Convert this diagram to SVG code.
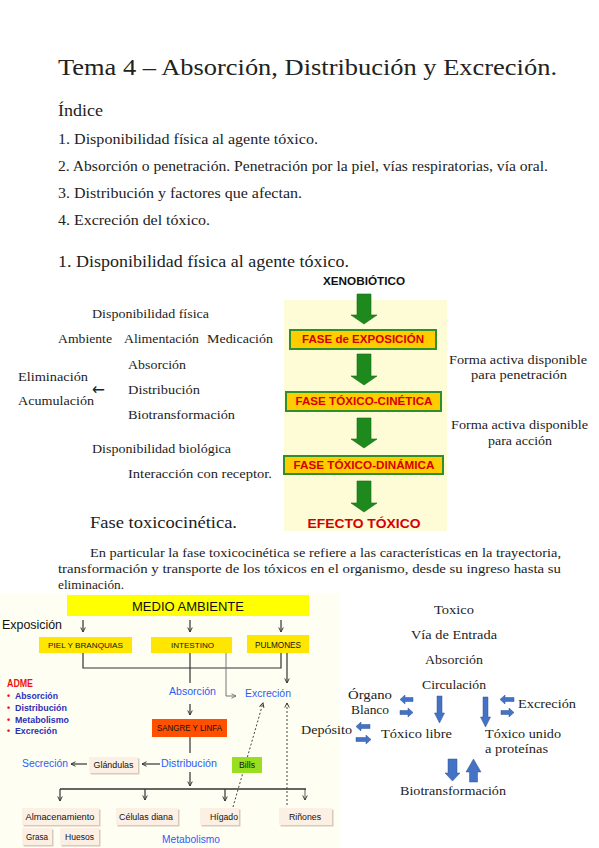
<svg xmlns="http://www.w3.org/2000/svg" width="599" height="848" viewBox="0 0 599 848">
<style>
.s{font-family:"Liberation Serif","DejaVu Serif",serif;fill:#222}
.b{font-family:"Liberation Sans",Arial,sans-serif;font-weight:bold}
.f{font-family:"Liberation Sans",Arial,sans-serif;fill:#111}
.bl{font-family:"Liberation Sans",Arial,sans-serif;fill:#2f5cf5}
.ad{font-family:"Liberation Sans",Arial,sans-serif;font-weight:bold;fill:#2b2fb8;font-size:9px}
.fase{fill:#ffcc00;stroke:#2e8f2e;stroke-width:2}
.ft{font-family:"Liberation Sans",Arial,sans-serif;font-weight:bold;fill:#d40000;font-size:10.5px}
.ga{fill:#1e8a1e;stroke:#156815;stroke-width:0.6}
.ba{fill:#4472c4;stroke:#2f5597;stroke-width:0.5}
.yb{fill:#ffe600}
.bg{fill:#fcefe4}
.sh{fill:#d8c9bb}
.ln{stroke:#333;stroke-width:1.2;fill:none}
.dt{stroke:#444;stroke-width:1;stroke-dasharray:2 2;fill:none}
</style>
<defs>
<marker id="ah" viewBox="0 0 8 8" refX="7" refY="4" markerWidth="6" markerHeight="6" orient="auto" markerUnits="userSpaceOnUse">
<path d="M1,1 L7,4 L1,7" fill="none" stroke="#333" stroke-width="1.3"/>
</marker>
<marker id="ahg" viewBox="0 0 8 8" refX="7" refY="4" markerWidth="6" markerHeight="6" orient="auto" markerUnits="userSpaceOnUse">
<path d="M1,1 L7,4 L1,7" fill="none" stroke="#777" stroke-width="1.3"/>
</marker>
</defs>
<rect width="599" height="848" fill="#fff"/>

<g id="header">
<text class="s" x="58" y="75" font-size="24" textLength="499" lengthAdjust="spacingAndGlyphs">Tema 4 – Absorción, Distribución y Excreción.</text>
<text class="s" x="58" y="116" font-size="17" textLength="45" lengthAdjust="spacingAndGlyphs">Índice</text>
<text class="s" x="58" y="144" font-size="14" textLength="260" lengthAdjust="spacingAndGlyphs">1. Disponibilidad física al agente tóxico.</text>
<text class="s" x="58" y="171" font-size="14" textLength="490" lengthAdjust="spacingAndGlyphs">2. Absorción o penetración. Penetración por la piel, vías respiratorias, vía oral.</text>
<text class="s" x="58" y="198" font-size="14" textLength="244" lengthAdjust="spacingAndGlyphs">3. Distribución y factores que afectan.</text>
<text class="s" x="58" y="225" font-size="14" textLength="152" lengthAdjust="spacingAndGlyphs">4. Excreción del tóxico.</text>
<text class="s" x="58" y="267" font-size="16" textLength="291" lengthAdjust="spacingAndGlyphs">1. Disponibilidad física al agente tóxico.</text>
</g>

<g id="availability-list" font-size="13">
<text class="s" x="92" y="318" textLength="117" lengthAdjust="spacingAndGlyphs">Disponibilidad física</text>
<text class="s" x="58" y="343" textLength="54" lengthAdjust="spacingAndGlyphs">Ambiente</text>
<text class="s" x="124" y="343" textLength="75" lengthAdjust="spacingAndGlyphs">Alimentación</text>
<text class="s" x="207" y="343" textLength="66" lengthAdjust="spacingAndGlyphs">Medicación</text>
<text class="s" x="128" y="369" textLength="58" lengthAdjust="spacingAndGlyphs">Absorción</text>
<text class="s" x="18" y="381" textLength="70" lengthAdjust="spacingAndGlyphs">Eliminación</text>
<text x="92" y="395" font-family="DejaVu Sans, sans-serif" font-size="17" fill="#222" textLength="13" lengthAdjust="spacingAndGlyphs">←</text>
<text class="s" x="128" y="394" textLength="72" lengthAdjust="spacingAndGlyphs">Distribución</text>
<text class="s" x="18" y="405" textLength="76" lengthAdjust="spacingAndGlyphs">Acumulación</text>
<text class="s" x="128" y="419" textLength="107" lengthAdjust="spacingAndGlyphs">Biotransformación</text>
<text class="s" x="92" y="453" textLength="139" lengthAdjust="spacingAndGlyphs">Disponibilidad biológica</text>
<text class="s" x="128" y="478" textLength="144" lengthAdjust="spacingAndGlyphs">Interacción con receptor.</text>
</g>

<g id="phases">
<rect x="284" y="300" width="163" height="231" fill="#fdfcd6"/>
<text class="b" x="364" y="285" font-size="11" text-anchor="middle" fill="#111" textLength="82" lengthAdjust="spacingAndGlyphs">XENOBIÓTICO</text>
<path class="ga" d="M357,294 H371 V315 H377 L364,324 L351,315 H357 Z"/>
<g id="fase-exposicion"><rect class="fase" x="290" y="330" width="146" height="19"/><text class="ft" x="363" y="343" text-anchor="middle" textLength="122" lengthAdjust="spacingAndGlyphs">FASE de EXPOSICIÓN</text></g>
<path class="ga" d="M357,354 H371 V376 H377 L364,385 L351,376 H357 Z"/>
<g id="fase-cinetica"><rect class="fase" x="286" y="392" width="155" height="19"/><text class="ft" x="364" y="405" text-anchor="middle" textLength="137" lengthAdjust="spacingAndGlyphs">FASE TÓXICO-CINÉTICA</text></g>
<path class="ga" d="M357,418 H371 V439 H377 L364,448 L351,439 H357 Z"/>
<g id="fase-dinamica"><rect class="fase" x="284" y="456" width="159" height="18"/><text class="ft" x="364" y="469" text-anchor="middle" textLength="141" lengthAdjust="spacingAndGlyphs">FASE TÓXICO-DINÁMICA</text></g>
<path class="ga" d="M357,481 H371 V503 H377 L364,512 L351,503 H357 Z"/>
<text class="b" x="364" y="528" font-size="13.5" text-anchor="middle" fill="#d40000" textLength="113" lengthAdjust="spacingAndGlyphs">EFECTO TÓXICO</text>
</g>

<g id="phase-notes" font-size="13">
<text class="s" x="449" y="364" textLength="138" lengthAdjust="spacingAndGlyphs">Forma activa disponible</text>
<text class="s" x="471" y="379" textLength="96" lengthAdjust="spacingAndGlyphs">para penetración</text>
<text class="s" x="451" y="429" textLength="137" lengthAdjust="spacingAndGlyphs">Forma activa disponible</text>
<text class="s" x="488" y="445" textLength="64" lengthAdjust="spacingAndGlyphs">para acción</text>
</g>

<g id="paragraph">
<text class="s" x="90" y="528" font-size="16" textLength="147" lengthAdjust="spacingAndGlyphs">Fase toxicocinética.</text>
<text class="s" x="90" y="557" font-size="12.5" textLength="471" lengthAdjust="spacingAndGlyphs">En particular la fase toxicocinética se refiere a las características en la trayectoria,</text>
<text class="s" x="58" y="573" font-size="12.5" textLength="503" lengthAdjust="spacingAndGlyphs">transformación y transporte de los tóxicos en el organismo, desde su ingreso hasta su</text>
<text class="s" x="58" y="589" font-size="12.5" textLength="66" lengthAdjust="spacingAndGlyphs">eliminación.</text>
</g>

<rect x="0" y="593" width="340" height="255" fill="#fffef2"/>

<g id="connectors">
<line class="ln" x1="83" y1="620" x2="83" y2="632" marker-end="url(#ah)"/>
<line class="ln" x1="190" y1="620" x2="190" y2="632" marker-end="url(#ah)"/>
<line class="ln" x1="281" y1="620" x2="281" y2="632" marker-end="url(#ah)"/>
<polyline class="ln" points="83,653 83,668 281,668 281,653"/>
<line class="ln" x1="190" y1="653" x2="190" y2="683"/>
<polyline points="226,653 226,696 236,696" fill="none" stroke="#777" stroke-width="1" marker-end="url(#ahg)"/>
<line class="ln" x1="287" y1="653" x2="287" y2="683" marker-end="url(#ah)"/>
<line class="ln" x1="190" y1="704" x2="190" y2="715" marker-end="url(#ah)"/>
<line class="ln" x1="190" y1="737" x2="190" y2="753"/>
<line class="ln" x1="160" y1="764" x2="142" y2="764" marker-end="url(#ah)"/>
<line class="ln" x1="87" y1="764" x2="71" y2="764" marker-end="url(#ah)"/>
<line class="ln" x1="190" y1="772" x2="190" y2="786" marker-end="url(#ah)"/>
<line x1="60" y1="789" x2="306" y2="789" stroke="#333" stroke-width="1.6"/>
<line class="ln" x1="60" y1="789" x2="60" y2="801" marker-end="url(#ah)"/>
<line class="ln" x1="145" y1="789" x2="145" y2="800" marker-end="url(#ah)"/>
<line class="ln" x1="225" y1="789" x2="225" y2="801" marker-end="url(#ah)"/>
<line x1="305" y1="789" x2="305" y2="800" stroke="#333" stroke-width="0.8" marker-end="url(#ah)"/>
<line class="dt" x1="233" y1="807" x2="263" y2="703" marker-end="url(#ah)"/>
<line class="dt" x1="287" y1="805" x2="287" y2="703" marker-end="url(#ah)"/>
</g>

<g id="medio-ambiente"><rect x="67" y="595" width="242" height="21" fill="#ffff00"/><text class="f" x="188" y="611" font-size="13" text-anchor="middle" textLength="112" lengthAdjust="spacingAndGlyphs">MEDIO AMBIENTE</text></g>
<text class="f" x="2" y="629" font-size="13" textLength="60" lengthAdjust="spacingAndGlyphs">Exposición</text>
<g id="piel"><rect x="39" y="637" width="93" height="16" class="yb"/><text class="f" x="85.5" y="648" font-size="8" text-anchor="middle" textLength="75" lengthAdjust="spacingAndGlyphs">PIEL Y BRANQUIAS</text></g>
<g id="intestino"><rect x="151" y="637" width="81" height="16" class="yb"/><text class="f" x="192.5" y="648" font-size="8" text-anchor="middle" textLength="43" lengthAdjust="spacingAndGlyphs">INTESTINO</text></g>
<g id="pulmones"><rect x="247" y="635" width="62" height="18" class="yb"/><text class="f" x="278" y="648" font-size="8.5" text-anchor="middle" textLength="46" lengthAdjust="spacingAndGlyphs">PULMONES</text></g>

<g id="adme">
<text class="b" x="7" y="687" font-size="10" fill="#ee1111" textLength="26" lengthAdjust="spacingAndGlyphs">ADME</text>
<text x="7" y="699" font-size="9" fill="#ee1111" class="b">•</text><text class="ad" x="15" y="699" textLength="43" lengthAdjust="spacingAndGlyphs">Absorción</text>
<text x="7" y="711" font-size="9" fill="#ee1111" class="b">•</text><text class="ad" x="15" y="711" textLength="52" lengthAdjust="spacingAndGlyphs">Distribución</text>
<text x="7" y="723" font-size="9" fill="#ee1111" class="b">•</text><text class="ad" x="15" y="723" textLength="54" lengthAdjust="spacingAndGlyphs">Metabolismo</text>
<text x="7" y="734" font-size="9" fill="#ee1111" class="b">•</text><text class="ad" x="15" y="734" textLength="42" lengthAdjust="spacingAndGlyphs">Excreción</text>
</g>

<text class="bl" x="169" y="695" font-size="10" textLength="47" lengthAdjust="spacingAndGlyphs">Absorción</text>
<text class="bl" x="245" y="697" font-size="10" textLength="46" lengthAdjust="spacingAndGlyphs">Excreción</text>
<g id="sangre"><rect x="152" y="719" width="75" height="18" fill="#ff5000"/><text class="f" x="189.5" y="731" font-size="8.5" text-anchor="middle" textLength="65" lengthAdjust="spacingAndGlyphs">SANGRE Y LINFA</text></g>
<text class="bl" x="161" y="767" font-size="10" textLength="56" lengthAdjust="spacingAndGlyphs">Distribución</text>
<text class="bl" x="22" y="767" font-size="10" textLength="46" lengthAdjust="spacingAndGlyphs">Secreción</text>
<g id="glandulas"><rect class="sh" x="90.5" y="758.5" width="49" height="16"/><rect class="bg" x="89" y="757" width="49" height="16"/><text class="f" x="113.5" y="768" font-size="8.5" text-anchor="middle" textLength="40" lengthAdjust="spacingAndGlyphs">Glándulas</text></g>
<g id="bilis"><rect x="232" y="757" width="30" height="16" fill="#9ade22"/><text class="f" x="247" y="768" font-size="8.5" text-anchor="middle" textLength="16" lengthAdjust="spacingAndGlyphs">Bills</text></g>
<g id="almacenamiento"><rect class="sh" x="23.5" y="809.5" width="77" height="17"/><rect class="bg" x="22" y="808" width="77" height="17"/><text class="f" x="60" y="820" font-size="8.5" text-anchor="middle" textLength="69" lengthAdjust="spacingAndGlyphs">Almacenamiento</text></g>
<g id="celulas"><rect class="sh" x="117.5" y="809.5" width="62" height="17"/><rect class="bg" x="116" y="808" width="62" height="17"/><text class="f" x="146" y="820" font-size="8.5" text-anchor="middle" textLength="54" lengthAdjust="spacingAndGlyphs">Células diana</text></g>
<g id="higado"><rect class="sh" x="201.5" y="809.5" width="39" height="17"/><rect class="bg" x="200" y="808" width="39" height="17"/><text class="f" x="224" y="820" font-size="8.5" text-anchor="middle" textLength="28" lengthAdjust="spacingAndGlyphs">Hígado</text></g>
<g id="rinones"><rect class="sh" x="280.5" y="809.5" width="53" height="17"/><rect class="bg" x="279" y="808" width="53" height="17"/><text class="f" x="305" y="820" font-size="8.5" text-anchor="middle" textLength="32" lengthAdjust="spacingAndGlyphs">Riñones</text></g>
<g id="grasa"><rect class="sh" x="23.5" y="829.5" width="30" height="17"/><rect class="bg" x="22" y="828" width="30" height="17"/><text class="f" x="37" y="840" font-size="8.5" text-anchor="middle" textLength="22" lengthAdjust="spacingAndGlyphs">Grasa</text></g>
<g id="huesos"><rect class="sh" x="61.5" y="829.5" width="39" height="17"/><rect class="bg" x="60" y="828" width="39" height="17"/><text class="f" x="79.5" y="840" font-size="8.5" text-anchor="middle" textLength="29" lengthAdjust="spacingAndGlyphs">Huesos</text></g>
<text class="bl" x="162" y="843" font-size="10" textLength="58" lengthAdjust="spacingAndGlyphs">Metabolismo</text>

<g id="circulation" font-size="13">
<text class="s" x="434" y="614" textLength="40" lengthAdjust="spacingAndGlyphs">Toxico</text>
<text class="s" x="411" y="639" textLength="86" lengthAdjust="spacingAndGlyphs">Vía de Entrada</text>
<text class="s" x="425" y="664" textLength="58" lengthAdjust="spacingAndGlyphs">Absorción</text>
<text class="s" x="422" y="689" textLength="64" lengthAdjust="spacingAndGlyphs">Circulación</text>
<text class="s" x="348" y="699" textLength="44" lengthAdjust="spacingAndGlyphs">Órgano</text>
<text class="s" x="351" y="714" textLength="38" lengthAdjust="spacingAndGlyphs">Blanco</text>
<text class="s" x="518" y="708" textLength="58" lengthAdjust="spacingAndGlyphs">Excreción</text>
<text class="s" x="301" y="734" textLength="51" lengthAdjust="spacingAndGlyphs">Depósito</text>
<text class="s" x="381" y="738" textLength="71" lengthAdjust="spacingAndGlyphs">Tóxico libre</text>
<text class="s" x="485" y="738" textLength="76" lengthAdjust="spacingAndGlyphs">Tóxico unido</text>
<text class="s" x="485" y="753" textLength="63" lengthAdjust="spacingAndGlyphs">a proteínas</text>
<text class="s" x="400" y="795" textLength="106" lengthAdjust="spacingAndGlyphs">Biotransformación</text>
<path class="ba" d="M400,699.5 L405,695 V697.5 H413 V701.5 H405 V704 Z"/>
<path class="ba" d="M413,712.5 L408,708 V710.5 H400 V714.5 H408 V717 Z"/>
<path class="ba" d="M500,699.5 L505,695 V697.5 H514 V701.5 H505 V704 Z"/>
<path class="ba" d="M514,712.5 L509,708 V710.5 H501 V714.5 H509 V717 Z"/>
<path class="ba" d="M356,726.5 L361,722 V724.5 H370 V728.5 H361 V731 Z"/>
<path class="ba" d="M371,739.5 L366,735 V737.5 H356 V741.5 H366 V744 Z"/>
<path class="ba" d="M437,696 H442 V713 H444.5 L439.5,723 L434.5,713 H437 Z"/>
<path class="ba" d="M483,697 H488 V717 H490.5 L485.5,727 L480.5,717 H483 Z"/>
<path class="ba" d="M448,759 H457 V773 H460 L452.5,781 L445,773 H448 Z"/>
<path class="ba" d="M469.5,782 H477.5 V772 H481 L473.5,759 L466,772 H469.5 Z"/>
</g>
</svg>
